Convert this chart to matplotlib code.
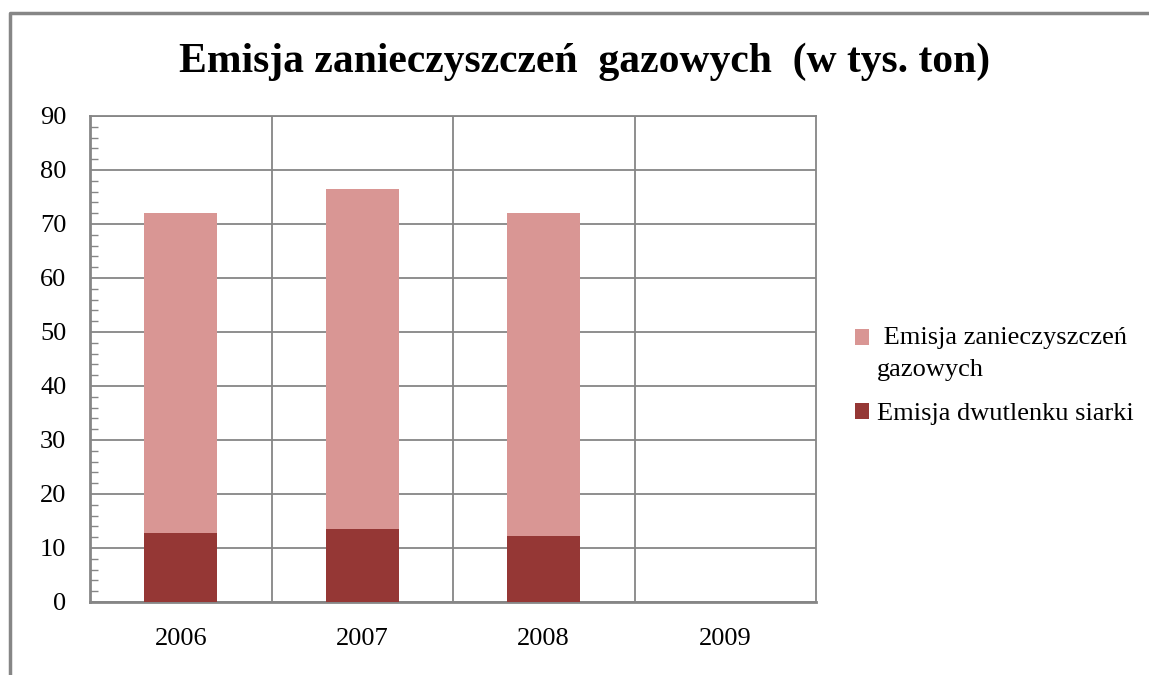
import matplotlib.pyplot as plt
from matplotlib.patches import Patch, Rectangle
from matplotlib.legend_handler import HandlerPatch
from matplotlib.lines import Line2D
from matplotlib.ticker import MultipleLocator
import numpy as np

plt.rcParams['font.family'] = ['Liberation Serif', 'DejaVu Serif']

years = ['2006', '2007', '2008', '2009']
so2 = [12.8, 13.6, 12.2, 0]
gazowe = [59.2, 62.9, 59.8, 0]

dark = '#953735'
pink = '#D99694'
grid_c = '#868686'
leg_fs = 19

fig = plt.figure(figsize=(11.49, 6.75), dpi=100)
ax = fig.add_axes([90 / 1149, 1 - 602 / 675, 726 / 1149, 486 / 675])

x = np.arange(len(years))
ax.bar(x, so2, width=0.4, color=dark, linewidth=0, zorder=3)
ax.bar(x, gazowe, width=0.4, bottom=so2, color=pink, linewidth=0, zorder=3)

ax.set_xlim(-0.5, 3.5)
ax.set_ylim(0, 90)
ax.set_xticks(x)
ax.set_xticklabels(years)
ax.set_xticks([0.5, 1.5, 2.5], minor=True)
ax.yaxis.set_major_locator(MultipleLocator(10))
ax.yaxis.set_minor_locator(MultipleLocator(2))

ax.grid(axis='y', which='major', color=grid_c, linewidth=1.3, zorder=1)
ax.grid(axis='x', which='minor', color=grid_c, linewidth=1.3, zorder=1)
ax.set_axisbelow(True)

ax.tick_params(axis='x', which='both', length=0, pad=19, labelsize=19)
ax.tick_params(axis='y', which='major', length=0, pad=17, labelsize=19)
ax.tick_params(axis='y', which='minor', direction='in', length=6, color=grid_c, width=1)

for s in ax.spines.values():
    s.set_color(grid_c)
    s.set_linewidth(1.3)
ax.spines['bottom'].set_linewidth(2)
ax.spines['left'].set_linewidth(2)

fig.text(585 / 1149, 1 - 62 / 675, 'Emisja zanieczyszczeń  gazowych  (w tys. ton)',
         ha='center', va='center', fontsize=30, fontweight='bold')


# legend square of the two-line entry sits on its first line
def top_square(legend, orig_handle, xdescent, ydescent, width, height, fontsize):
    return Rectangle((-xdescent, -ydescent + 0.6 * fontsize), width, height)


handles = [Patch(facecolor=pink), Patch(facecolor=dark)]
labels = [' Emisja zanieczyszczeń\ngazowych', 'Emisja dwutlenku siarki']
leg = fig.legend(handles, labels, loc='upper left', bbox_to_anchor=(844 / 1149, 1 - 316 / 675),
                 frameon=False, fontsize=leg_fs, handlelength=0.55, handleheight=0.55,
                 handletextpad=0.3, labelspacing=0.85, borderaxespad=0,
                 handler_map={handles[0]: HandlerPatch(patch_func=top_square)})
leg.get_texts()[0].set_linespacing(1.6)

fig.add_artist(Line2D([10 / 1149, 10 / 1149, 1], [0, 1 - 13 / 675, 1 - 13 / 675],
                      transform=fig.transFigure, color=grid_c, linewidth=2.5))

fig.savefig('out.png', dpi=100)
